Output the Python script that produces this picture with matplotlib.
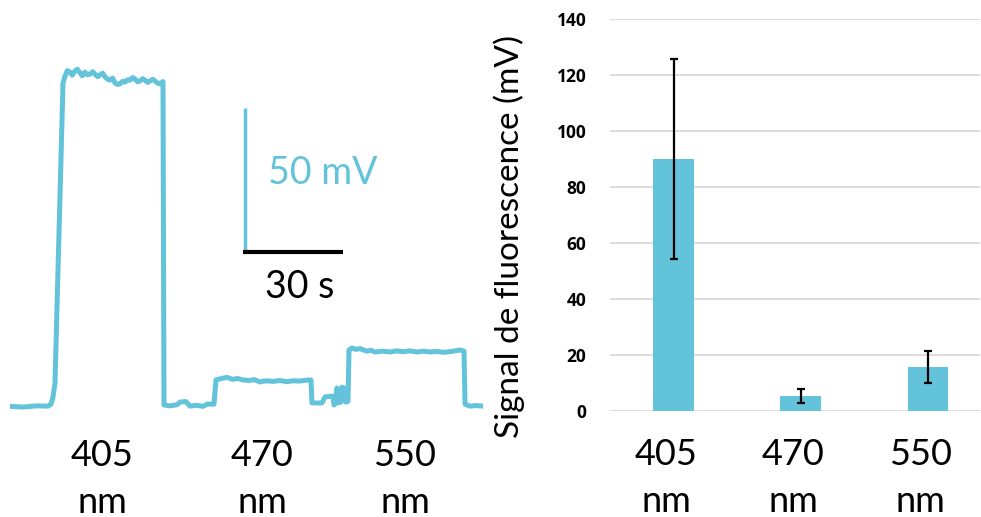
import numpy as np
import matplotlib
matplotlib.use('Agg')
import matplotlib.pyplot as plt

# trace: (time in s, signal in mV)
trace = [
    (0.0, 0.2), (4.0, 0.0), (8.0, 0.4), (11.4, 0.3), (12.3, 1.0), (12.9, 3.5), (13.5, 8.3),
    (15.9, 112.5), (16.5, 114.9), (17.2, 116.8), (18.0, 116.3), (18.7, 115.2), (19.5, 116.7),
    (20.2, 117.3), (21.0, 116.0), (21.7, 115.0), (22.5, 116.3), (23.2, 115.4), (24.0, 115.6),
    (24.8, 116.4), (25.5, 115.6), (26.3, 114.7), (27.0, 115.3), (27.8, 115.9), (28.5, 114.6),
    (29.3, 113.8), (30.0, 113.5), (30.8, 114.2), (31.5, 112.5), (32.3, 112.0), (33.0, 112.2),
    (33.8, 113.1), (34.5, 112.8), (35.3, 113.6), (36.0, 113.5), (36.8, 114.4), (37.5, 113.9),
    (38.3, 112.9), (39.0, 113.2), (39.8, 114.0), (40.5, 113.5), (41.3, 112.7), (42.0, 113.2),
    (42.8, 113.8), (43.5, 113.2), (44.3, 112.4), (45.0, 112.2), (45.9, 113.0),
    (46.2, 0.7), (48.0, 0.4), (50.1, 0.8), (51.0, 1.7), (52.8, 1.9), (54.0, 0.3), (56.0, 0.6),
    (57.9, 0.2), (59.1, 1.0), (61.2, 1.0),
    (61.8, 9.4), (63.4, 9.9), (65.1, 10.3), (66.7, 9.6), (68.3, 9.9), (69.9, 9.4), (71.6, 9.2),
    (73.3, 9.5), (75.0, 8.7), (76.9, 9.1), (79.0, 8.9), (81.0, 9.2), (83.0, 8.8), (85.0, 9.1),
    (87.0, 9.0), (88.7, 9.3), (90.3, 9.4),
    (90.6, 1.4), (93.6, 1.4), (94.5, 3.5), (96.9, 3.8), (97.2, 0.7), (97.8, 1.4), (98.1, 6.6),
    (98.4, 1.4), (99.3, 1.7), (99.6, 6.9), (100.2, 6.6), (100.8, 1.7), (101.4, 2.0),
    (101.7, 19.8), (102.6, 20.5), (103.8, 20.0), (105.0, 20.3), (106.0, 19.8), (107.1, 19.4),
    (108.3, 19.7), (109.5, 19.1), (111.8, 19.4), (114.0, 19.1), (116.0, 19.5), (118.0, 19.2),
    (120.0, 19.5), (122.0, 19.1), (124.0, 19.4), (126.0, 19.1), (128.0, 19.3), (130.0, 19.0),
    (132.0, 19.2), (133.5, 19.5), (135.0, 19.8), (136.2, 19.4),
    (136.5, 1.0), (138.0, 0.3), (140.0, 0.5), (141.9, 0.3),
]
trace_ticks = [27.6, 75.6, 118.5]

wavelengths = ['405\nnm', '470\nnm', '550\nnm']
means = [90.1, 5.2, 15.6]
errors = [35.8, 2.6, 5.6]
y_ticks = [0, 20, 40, 60, 80, 100, 120, 140]

blue = '#62C3DA'
W, H = 981, 517
lab_font = dict(family='Lato', fontsize=26, linespacing=1.5)

fig = plt.figure(figsize=(W / 100, H / 100), dpi=100)

# left: raw trace with scale bar
ax1 = fig.add_axes([10 / W, (H - 420) / H, 473 / W, 390 / H])
t, mv = np.array(trace).T
ax1.plot(t, mv, color=blue, lw=3.6, solid_joinstyle='round')
ax1.set_xlim(0, 141.9)
ax1.set_ylim(-4.51, 130.9)
for s in ax1.spines.values():
    s.set_visible(False)
ax1.set_yticks([])
ax1.set_xticks(trace_ticks)
ax1.set_xticklabels(wavelengths, **lab_font)
ax1.tick_params(axis='x', length=0, pad=14)

ax1.plot([70.5, 70.5], [53.8, 103.8], color=blue, lw=2.5, solid_capstyle='butt')
ax1.plot([69.9, 99.9], [53.8, 53.8], color='black', lw=3, solid_capstyle='butt')
ax1.text(77.4, 81.3, '50 mV', color=blue, family='Lato', fontsize=27,
         va='center', ha='left')
ax1.text(87.0, 41.7, '30 s', color='black', family='Lato', fontsize=27,
         va='center', ha='center')

# right: mean fluorescence per wavelength
ax2 = fig.add_axes([610 / W, (H - 410.7) / H, 370 / W, 391.4 / H])
x = np.arange(len(means))
ax2.bar(x, means, width=0.32, color=blue, zorder=3)
ax2.errorbar(x, means, yerr=errors, fmt='none', ecolor='black', elinewidth=1.6,
             capsize=2.8, capthick=1.6, zorder=4)
ax2.set_xlim(-0.5, 2.408)
ax2.set_ylim(0, 140)
ax2.set_yticks(y_ticks, [str(v) for v in y_ticks], family='Open Sans',
               fontweight='bold', fontsize=12.5)
ax2.grid(axis='y', color='#D9D9D9', lw=1.3, zorder=0)
for s in ax2.spines.values():
    s.set_visible(False)
ax2.tick_params(axis='y', length=0, pad=17)
ax2.set_xticks(x - 0.06)
ax2.set_xticklabels(wavelengths, **lab_font)
ax2.tick_params(axis='x', length=0, pad=20)
ax2.set_ylabel('Signal de fluorescence (mV)', family='Lato', fontsize=24)
ax2.yaxis.set_label_coords(-0.23, 0.444)

fig.savefig('out.png', dpi=100)
